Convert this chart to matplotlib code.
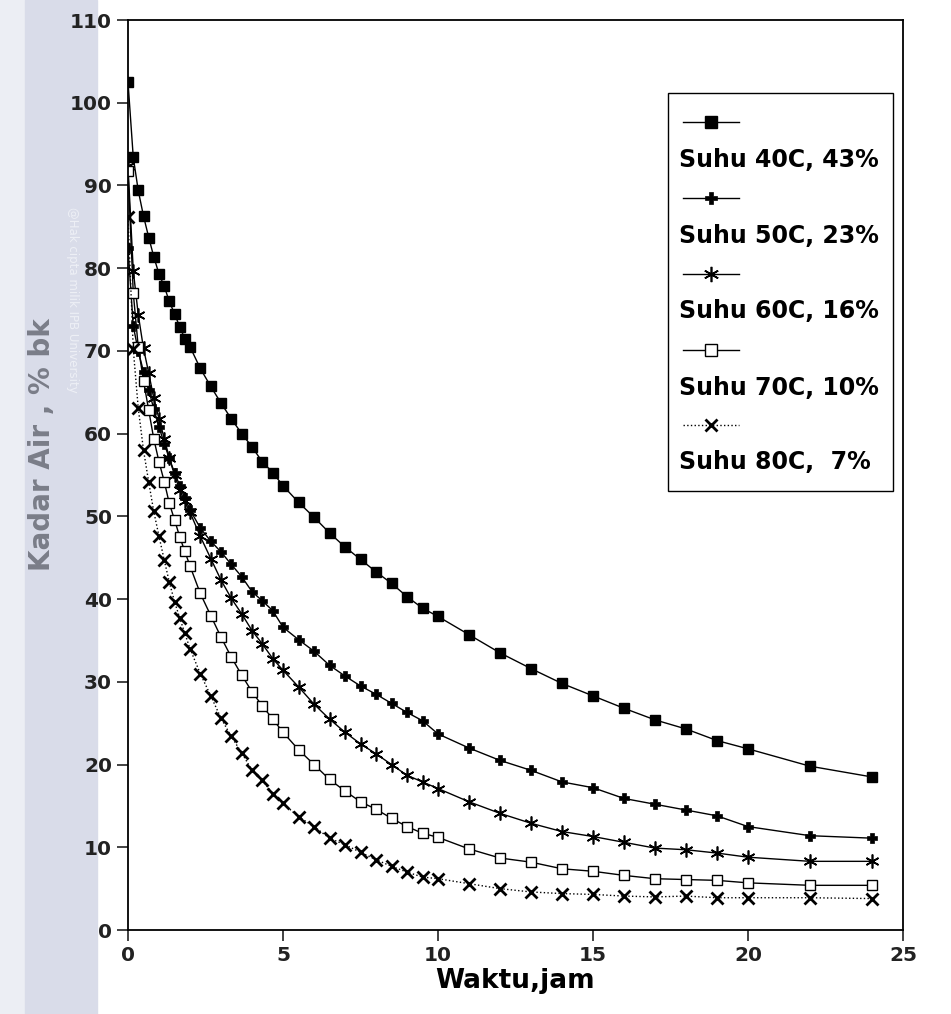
import matplotlib
matplotlib.use("Agg")
import matplotlib.pyplot as plt
from matplotlib.patches import Rectangle

# waktu pengeringan (jam)
waktu = [0, 0.17, 0.33, 0.5, 0.67, 0.83, 1, 1.17, 1.33, 1.5, 1.67, 1.83, 2,
         2.33, 2.67, 3, 3.33, 3.67, 4, 4.33, 4.67, 5,
         5.5, 6, 6.5, 7, 7.5, 8, 8.5, 9, 9.5, 10,
         11, 12, 13, 14, 15, 16, 17, 18, 19, 20, 22, 24]

suhu_40 = [102.5, 93.4, 89.4, 86.3, 83.7, 81.4, 79.3, 77.8, 76.0, 74.5, 72.9, 71.5, 70.5,
           67.9, 65.7, 63.7, 61.8, 60.0, 58.4, 56.6, 55.3, 53.7,
           51.7, 49.9, 48.0, 46.3, 44.8, 43.3, 41.9, 40.3, 38.9, 37.9,
           35.7, 33.5, 31.6, 29.8, 28.3, 26.8, 25.4, 24.3, 22.9, 21.9, 19.8, 18.5]
suhu_50 = [82.4, 73.0, 70.0, 67.5, 65.3, 63.0, 60.8, 58.8, 57.0, 55.3, 53.7, 52.2, 50.8,
           48.6, 47.0, 45.7, 44.2, 42.7, 40.9, 39.8, 38.6, 36.6,
           35.1, 33.7, 32.0, 30.7, 29.5, 28.5, 27.4, 26.3, 25.3, 23.7,
           22.0, 20.5, 19.3, 17.9, 17.2, 15.9, 15.2, 14.5, 13.8, 12.5, 11.4, 11.1]
suhu_60 = [92.3, 79.7, 74.4, 70.3, 67.3, 64.3, 61.8, 59.4, 57.1, 55.0, 53.2, 51.8, 50.5,
           47.6, 44.9, 42.3, 40.1, 38.2, 36.2, 34.6, 32.8, 31.4,
           29.4, 27.3, 25.5, 23.9, 22.5, 21.3, 20.0, 18.7, 17.9, 17.1,
           15.5, 14.1, 12.9, 11.9, 11.3, 10.6, 9.9, 9.7, 9.3, 8.8, 8.3, 8.3]
suhu_70 = [91.7, 77.0, 70.5, 66.4, 62.8, 59.4, 56.6, 54.2, 51.6, 49.6, 47.5, 45.8, 44.0,
           40.7, 38.0, 35.4, 33.0, 30.8, 28.8, 27.1, 25.5, 23.9,
           21.8, 20.0, 18.2, 16.8, 15.5, 14.6, 13.5, 12.5, 11.7, 11.2,
           9.8, 8.7, 8.2, 7.4, 7.1, 6.6, 6.2, 6.1, 6.0, 5.7, 5.4, 5.4]
suhu_80 = [86.2, 70.2, 63.1, 58.0, 54.1, 50.6, 47.6, 44.7, 42.1, 39.7, 37.7, 35.9, 34.0,
           31.0, 28.3, 25.6, 23.4, 21.4, 19.3, 18.1, 16.5, 15.3,
           13.7, 12.5, 11.1, 10.3, 9.4, 8.5, 7.7, 7.0, 6.4, 6.2,
           5.6, 5.0, 4.6, 4.4, 4.3, 4.1, 4.0, 4.1, 3.9, 3.9, 3.9, 3.8]

labels = ["Suhu 40C, 43%", "Suhu 50C, 23%", "Suhu 60C, 16%", "Suhu 70C, 10%", "Suhu 80C,  7%"]

asterisk = (6, 2, 0)
styles = [
    dict(marker="s", ms=7, mfc="black", ls="-"),
    dict(marker="P", ms=7.5, mfc="black", ls="-", mew=0.5),
    dict(marker=asterisk, ms=10, mfc="black", ls="-", mew=1.2),
    dict(marker="s", ms=7, mfc="white", ls="-", mew=1.0),
    dict(marker="x", ms=8, mfc="black", ls=":", mew=2.0),
]
series = [suhu_40, suhu_50, suhu_60, suhu_70, suhu_80]

fig = plt.figure(figsize=(9.51, 10.14), dpi=100)

# latar kertas hasil scan di sisi kiri
fig.patches.append(Rectangle((0, 0), 25/951, 1, transform=fig.transFigure,
                             color="#eceef4", zorder=-10))
fig.patches.append(Rectangle((25/951, 0), 72/951, 1, transform=fig.transFigure,
                             color="#d9dce9", zorder=-10))
fig.text(72/951, 1-300/1014, "@Hak cipta milik IPB University", rotation=270,
         ha="center", va="center", fontsize=8.5, color="#eef0f6", zorder=-5)

ax = fig.add_axes([128/951, 1-930/1014, 775/951, 910/1014])
ax.set_zorder(1)

for y, st in zip(series, styles):
    ax.plot(waktu, y, color="black", lw=1.0, mec="black", **st)

ax.set_xlim(0, 25)
ax.set_ylim(0, 110)
ax.set_xticks(range(0, 26, 5))
ax.set_yticks(range(0, 111, 10))
ax.tick_params(direction="out", length=8, width=1.2, labelsize=14.5, colors="#222222")
for t in ax.get_xticklabels() + ax.get_yticklabels():
    t.set_fontweight("bold")
for s in ax.spines.values():
    s.set_linewidth(1.3)

ax.set_xlabel("Waktu,jam", fontsize=19, fontweight="bold", labelpad=2)
fig.text(42/951, 1-445/1014, "Kadar Air , % bk", rotation=90, ha="center", va="center",
         fontsize=20, fontweight="bold", color="#7a7d88")

# legenda: simbol di atas, teks di bawahnya
ax.add_patch(Rectangle((0.697, 0.482), 0.290, 0.438, transform=ax.transAxes,
                       facecolor="white", edgecolor="black", lw=1.0, zorder=5))
hy = [0.888, 0.804, 0.721, 0.637, 0.555]
ty = [0.846, 0.763, 0.680, 0.596, 0.514]
for i, st in enumerate(styles):
    ax.plot([0.716, 0.788], [hy[i], hy[i]], transform=ax.transAxes, color="black",
            lw=1.0, ls=st["ls"], zorder=6)
    ax.plot([0.752], [hy[i]], transform=ax.transAxes, color="black", ls="none",
            marker=st["marker"], ms=st["ms"] + 1, mfc=st["mfc"], mec="black",
            mew=st.get("mew", 1.0), zorder=7)
    ax.text(0.711, ty[i], labels[i], transform=ax.transAxes, ha="left", va="center",
            fontsize=17, fontweight="bold", zorder=7)

fig.savefig("out.png", dpi=100)
